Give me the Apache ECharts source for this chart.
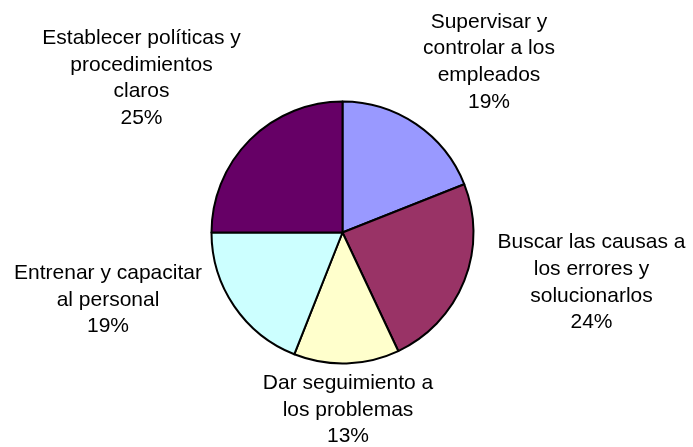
<!DOCTYPE html>
<html>
<head>
<meta charset="utf-8">
<script src="https://cdn.jsdelivr.net/npm/echarts@6/dist/echarts.min.js"></script>
<style>
  html, body { margin: 0; padding: 0; background: #fff; }
  #chart { width: 693px; height: 447px; }
</style>
</head>
<body>
<div id="chart"></div>
<script>
// Acciones para reducir errores (porcentaje de respuestas)
const categories = [
  'Supervisar y\ncontrolar a los\nempleados',
  'Buscar las causas a\nlos errores y\nsolucionarlos',
  'Dar seguimiento a\nlos problemas',
  'Entrenar y capacitar\nal personal',
  'Establecer políticas y\nprocedimientos\nclaros'
];
const values = [19, 24, 13, 19, 25];
const sliceColors = ['#9999FF', '#993366', '#FFFFCC', '#CCFFFF', '#660066'];

// Label anchor points (centre of each text block)
const labelAnchors = [
  [489, 62],
  [591.5, 282.5],
  [348, 410],
  [108, 300],
  [141.5, 78.3]
];

const chart = echarts.init(document.getElementById('chart'), null, { renderer: 'canvas' });

chart.setOption({
  animation: false,
  backgroundColor: '#ffffff',
  series: [{
    type: 'pie',
    center: [342.5, 232.5],
    radius: 131,
    startAngle: 90,
    clockwise: true,
    avoidLabelOverlap: false,
    data: categories.map((name, i) => ({
      name: name,
      value: values[i],
      itemStyle: { color: sliceColors[i] }
    })),
    itemStyle: { borderColor: '#000', borderWidth: 2 },
    label: {
      show: true,
      position: 'outside',
      overflow: 'none',
      width: 260,
      formatter: p => p.name + '\n' + p.value + '%',
      fontFamily: 'Liberation Sans, Arial, sans-serif',
      fontSize: 21,
      lineHeight: 26.7,
      color: '#000',
      align: 'center'
    },
    labelLine: { show: false },
    emphasis: { disabled: true },
    labelLayout: params => ({
      x: labelAnchors[params.dataIndex][0],
      y: labelAnchors[params.dataIndex][1],
      align: 'center',
      verticalAlign: 'middle'
    })
  }]
});
</script>
</body>
</html>
